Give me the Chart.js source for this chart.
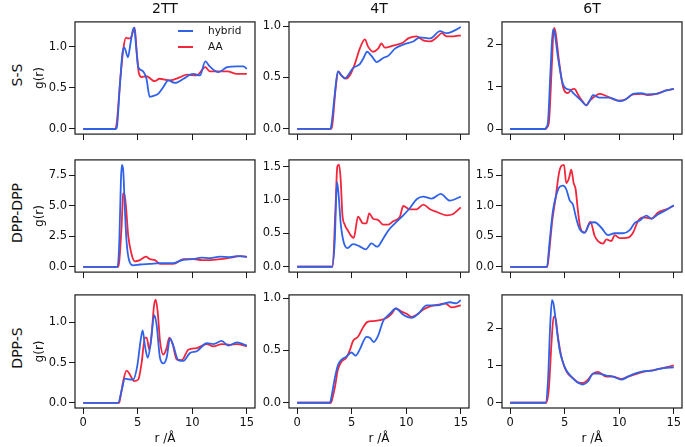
<!DOCTYPE html>
<html>
<head>
<meta charset="utf-8">
<script src="https://cdn.jsdelivr.net/npm/chart.js@4.4.0/dist/chart.umd.min.js"></script>
<style>
  body { margin: 0; background: #fff; width: 685px; height: 447px; position: relative; overflow: hidden; font-family: "DejaVu Sans", sans-serif; }
  canvas { position: absolute; }
  .lbl { position: absolute; font-size: 14px; color: #111; white-space: nowrap; transform: translate(-50%, -50%); }
  .rot { transform: translate(-50%, -50%) rotate(-90deg); }
  .leg { position: absolute; font-size: 10.5px; color: #111; }
  .sw { position: absolute; width: 15px; height: 2px; }
</style>
</head>
<body>
<script>
// column / row names
const systems = ['2TT', '4T', '6T'];
const pairs = ['S-S', 'DPP-DPP', 'DPP-S'];
const seriesNames = ['hybrid', 'AA'];
const rTicks = [0, 5, 10, 15];

// g(r) curves, [r, g]
const ss2ttHybrid = [[0,0],[3.0,0],[3.1,0.03],[3.35,0.5],[3.6,0.92],[3.75,0.99],[3.85,0.97],[4.1,0.87],[4.35,1.05],[4.55,1.2],[4.68,1.23],[4.85,1.0],[5.05,0.75],[5.4,0.71],[5.8,0.61],[6.1,0.39],[6.4,0.40],[6.9,0.43],[7.35,0.51],[7.8,0.59],[8.4,0.56],[9.2,0.61],[9.8,0.66],[10.1,0.67],[10.7,0.65],[11.2,0.82],[11.6,0.76],[12.4,0.69],[13.2,0.75],[14.1,0.76],[14.7,0.76],[15,0.73]];
const ss2ttAA = [[0,0],[2.95,0],[3.1,0.1],[3.4,0.6],[3.7,0.99],[3.92,1.11],[4.1,1.1],[4.3,1.1],[4.45,1.13],[4.72,1.23],[4.9,0.95],[5.1,0.68],[5.35,0.63],[5.8,0.64],[6.55,0.58],[7.0,0.61],[7.95,0.59],[8.9,0.63],[9.5,0.66],[10.4,0.65],[11.2,0.75],[11.6,0.70],[12.55,0.70],[13.2,0.70],[14.1,0.67],[15,0.67]];
const ss4tHybrid = [[0,0],[3.05,0],[3.15,0.05],[3.45,0.34],[3.72,0.56],[4.05,0.52],[4.36,0.49],[4.66,0.52],[5.12,0.59],[5.74,0.63],[6.04,0.68],[6.41,0.75],[6.81,0.71],[7.3,0.65],[7.88,0.69],[8.34,0.71],[8.96,0.78],[9.72,0.82],[10.64,0.85],[11.26,0.89],[12.18,0.88],[13.1,0.95],[13.7,0.93],[14.3,0.95],[15,0.99]];
const ss4tAA = [[0,0],[3.1,0],[3.22,0.04],[3.53,0.40],[3.78,0.56],[4.05,0.52],[4.5,0.49],[4.82,0.52],[5.28,0.63],[5.74,0.78],[6.2,0.87],[6.5,0.80],[6.96,0.75],[7.42,0.78],[7.73,0.83],[8.04,0.79],[8.8,0.81],[9.72,0.84],[10.18,0.88],[10.95,0.90],[11.56,0.86],[12.18,0.85],[12.8,0.89],[13.25,0.93],[13.7,0.90],[14.3,0.90],[15,0.91]];
const ss6tHybrid = [[0,0],[3.2,0],[3.3,0.03],[3.46,0.16],[3.7,1.4],[3.92,2.35],[4.07,2.28],[4.38,1.69],[4.78,1.11],[5.14,0.95],[5.45,0.93],[5.9,0.82],[6.52,0.67],[6.98,0.56],[7.29,0.67],[7.59,0.80],[8.2,0.74],[9.12,0.74],[10.04,0.66],[10.65,0.71],[11.26,0.83],[12.03,0.85],[12.49,0.82],[13.4,0.83],[14.3,0.91],[15,0.95]];
const ss6tAA = [[0,0],[3.25,0],[3.35,0.03],[3.55,0.16],[3.8,1.4],[4.01,2.39],[4.16,2.28],[4.47,1.62],[4.84,1.0],[5.3,0.85],[5.6,0.93],[5.9,0.95],[6.2,0.82],[6.67,0.64],[6.98,0.56],[7.29,0.67],[7.59,0.74],[8.2,0.83],[8.82,0.78],[9.89,0.67],[10.5,0.69],[11.26,0.82],[12.03,0.83],[12.6,0.80],[13.4,0.83],[14.3,0.91],[15,0.95]];

const dd2ttHybrid = [[0,0],[3.15,0],[3.31,2.04],[3.46,7.12],[3.55,8.35],[3.67,7.89],[3.83,4.58],[3.98,2.04],[4.22,0.51],[4.59,0.13],[5.2,0.2],[6.12,0.25],[7.04,0.31],[8.26,0.31],[9.18,0.59],[10.1,0.64],[10.87,0.76],[11.63,0.71],[12.55,0.84],[13.47,0.81],[14.1,0.89],[15,0.84]];
const dd2ttAA = [[0,0],[3.2,0],[3.31,0.5],[3.52,3.3],[3.67,5.98],[3.76,6.03],[3.92,4.96],[4.13,2.54],[4.44,1.02],[4.74,0.46],[5.2,0.56],[5.75,0.84],[6.12,0.64],[6.58,0.56],[7.04,0.25],[8.26,0.25],[9.18,0.64],[10.1,0.64],[10.87,0.56],[11.63,0.56],[12.55,0.64],[13.47,0.76],[14.4,0.89],[15,0.81]];
const dd4tHybrid = [[0,0],[3.2,0],[3.44,0.37],[3.65,1.27],[3.8,1.07],[3.99,0.65],[4.26,0.37],[4.6,0.28],[5.12,0.34],[5.67,0.31],[6.29,0.26],[6.81,0.35],[7.33,0.30],[7.88,0.42],[8.34,0.54],[8.96,0.65],[9.72,0.77],[10.34,0.88],[10.95,1.01],[11.56,1.05],[12.33,1.02],[13.16,1.09],[14.0,0.99],[15,1.05]];
const dd4tAA = [[0,0],[3.25,0],[3.5,0.84],[3.68,1.50],[3.83,1.53],[3.99,1.30],[4.14,0.79],[4.36,0.63],[4.66,0.54],[4.91,0.47],[5.18,0.43],[5.58,0.75],[6.04,0.65],[6.35,0.65],[6.6,0.80],[6.96,0.72],[7.42,0.70],[7.88,0.63],[8.34,0.63],[8.8,0.68],[9.42,0.75],[9.72,0.91],[10.34,0.86],[10.95,0.86],[11.56,0.93],[12.18,0.86],[12.8,0.82],[13.7,0.77],[14.3,0.79],[15,0.89]];
const dd6tHybrid = [[0,0],[3.37,0],[3.61,0.41],[3.92,0.92],[4.22,1.17],[4.53,1.31],[4.84,1.33],[5.14,1.27],[5.45,1.09],[5.75,1.02],[6.06,0.79],[6.37,0.62],[6.83,0.56],[7.29,0.71],[7.74,0.73],[8.36,0.64],[8.97,0.52],[9.58,0.55],[10.35,0.55],[10.96,0.60],[11.42,0.72],[11.88,0.76],[12.49,0.84],[12.95,0.79],[13.56,0.86],[14.3,0.93],[15,1.01]];
const dd6tAA = [[0,0],[3.4,0],[3.55,0.2],[3.86,0.76],[4.16,1.12],[4.47,1.53],[4.68,1.65],[4.93,1.67],[5.14,1.37],[5.39,1.45],[5.6,1.59],[5.82,1.37],[6.0,1.27],[6.21,0.92],[6.43,0.64],[6.83,0.56],[7.35,0.74],[7.74,0.51],[8.05,0.42],[8.51,0.38],[8.82,0.45],[9.27,0.42],[9.58,0.52],[10.04,0.47],[10.8,0.48],[11.26,0.56],[11.72,0.75],[12.18,0.81],[12.95,0.79],[13.56,0.89],[14.3,0.94],[15,1.0]];

const ds2ttHybrid = [[0,0],[3.2,0],[3.52,0.15],[3.83,0.30],[4.29,0.29],[4.59,0.29],[4.96,0.46],[5.26,0.77],[5.45,0.90],[5.66,0.71],[5.91,0.56],[6.18,0.73],[6.52,1.09],[6.73,0.97],[7.04,0.56],[7.35,0.49],[7.65,0.56],[7.96,0.80],[8.26,0.71],[8.72,0.53],[9.18,0.52],[9.8,0.62],[10.41,0.64],[11.33,0.74],[11.94,0.73],[12.7,0.77],[13.3,0.71],[14.1,0.75],[15,0.71]];
const ds2ttAA = [[0,0],[3.3,0],[3.45,0.1],[3.67,0.27],[3.98,0.40],[4.29,0.35],[4.65,0.27],[5.05,0.29],[5.36,0.50],[5.66,0.81],[5.82,0.81],[6.06,0.66],[6.27,0.85],[6.49,1.20],[6.64,1.28],[6.83,1.13],[7.04,0.77],[7.35,0.60],[7.65,0.68],[7.9,0.81],[8.2,0.73],[8.57,0.54],[9.03,0.53],[9.64,0.66],[10.41,0.68],[11.33,0.73],[11.94,0.70],[12.7,0.73],[13.47,0.72],[14.1,0.73],[15,0.70]];
const ds4tHybrid = [[0,0],[3.0,0],[3.13,0.05],[3.44,0.23],[3.74,0.36],[4.05,0.41],[4.5,0.44],[4.97,0.48],[5.37,0.45],[5.74,0.51],[6.35,0.63],[6.66,0.62],[7.02,0.58],[7.42,0.64],[7.88,0.78],[8.5,0.85],[9.05,0.90],[9.72,0.84],[10.5,0.81],[11.1,0.85],[11.87,0.93],[12.8,0.93],[14.0,0.96],[14.6,0.95],[15,0.98]];
const ds4tAA = [[0,0],[3.1,0],[3.2,0.03],[3.44,0.14],[3.74,0.32],[4.05,0.39],[4.5,0.43],[4.82,0.50],[5.12,0.59],[5.58,0.63],[6.04,0.72],[6.41,0.77],[6.96,0.78],[7.58,0.79],[8.19,0.81],[8.65,0.85],[9.05,0.90],[9.57,0.87],[10.03,0.85],[10.5,0.82],[10.95,0.84],[11.56,0.89],[12.18,0.92],[13.1,0.94],[13.56,0.95],[14.17,0.91],[15,0.93]];
const ds6tHybrid = [[0,0],[3.24,0],[3.46,0.57],[3.67,2.09],[3.83,2.75],[3.98,2.64],[4.22,2.09],[4.53,1.42],[4.84,1.08],[5.14,0.87],[5.6,0.70],[6.06,0.57],[6.67,0.49],[7.13,0.57],[7.59,0.78],[8.05,0.78],[8.82,0.73],[9.43,0.70],[10.19,0.62],[10.8,0.70],[11.42,0.78],[12.18,0.84],[13.1,0.87],[14.0,0.93],[15,0.95]];
const ds6tAA = [[0,0],[3.3,0],[3.55,0.4],[3.8,1.67],[3.98,2.30],[4.13,2.30],[4.38,1.76],[4.68,1.25],[4.99,0.95],[5.3,0.78],[5.75,0.66],[6.21,0.55],[6.67,0.53],[7.13,0.62],[7.59,0.78],[8.05,0.83],[8.82,0.70],[9.43,0.70],[10.19,0.64],[10.8,0.70],[11.42,0.76],[12.18,0.83],[13.1,0.87],[14.0,0.93],[15,1.0]];

// y tick values per panel row
const yTicksSS = [[0, 0.5, 1.0], [0, 0.5, 1.0], [0, 1, 2]];
const yTicksDD = [[0, 2.5, 5.0, 7.5], [0, 0.5, 1.0, 1.5], [0, 0.5, 1.0, 1.5]];
const yTicksDS = [[0, 0.5, 1.0], [0, 0.5, 1.0], [0, 1, 2]];

const BLUE = '#2f62e9';
const RED = '#f2263a';

// layout of the 3x3 grid (px)
const colLeft = [75, 289, 502];
const rowTop = [15, 153, 288];
const plotW = 180, plotH = 120;

const panels = [
  { row: 0, col: 0, hyb: ss2ttHybrid, aa: ss2ttAA, yr: [-0.062, 1.30], ticks: yTicksSS[0], dec: 1 },
  { row: 0, col: 1, hyb: ss4tHybrid, aa: ss4tAA, yr: [-0.05, 1.04], ticks: yTicksSS[1], dec: 1 },
  { row: 0, col: 2, hyb: ss6tHybrid, aa: ss6tAA, yr: [-0.12, 2.53], ticks: yTicksSS[2], dec: 0 },
  { row: 1, col: 0, hyb: dd2ttHybrid, aa: dd2ttAA, yr: [-0.42, 8.75], ticks: yTicksDD[0], dec: 1 },
  { row: 1, col: 1, hyb: dd4tHybrid, aa: dd4tAA, yr: [-0.08, 1.60], ticks: yTicksDD[1], dec: 1 },
  { row: 1, col: 2, hyb: dd6tHybrid, aa: dd6tAA, yr: [-0.085, 1.75], ticks: yTicksDD[2], dec: 1 },
  { row: 2, col: 0, hyb: ds2ttHybrid, aa: ds2ttAA, yr: [-0.064, 1.34], ticks: yTicksDS[0], dec: 1 },
  { row: 2, col: 1, hyb: ds4tHybrid, aa: ds4tAA, yr: [-0.05, 1.03], ticks: yTicksDS[1], dec: 1 },
  { row: 2, col: 2, hyb: ds6tHybrid, aa: ds6tAA, yr: [-0.14, 2.89], ticks: yTicksDS[2], dec: 0 }
];

// box around the plot area like matplotlib spines
const frame = {
  id: 'frame',
  afterDraw(chart) {
    const { ctx, chartArea: a } = chart;
    ctx.save();
    ctx.strokeStyle = '#1a1a1a';
    ctx.lineWidth = 1.2;
    ctx.strokeRect(a.left, a.top, a.right - a.left, a.bottom - a.top);
    ctx.restore();
  }
};

const tickFont = { family: 'DejaVu Sans', size: 11.5 };
const toXY = arr => arr.map(p => ({ x: p[0], y: p[1] }));

function line(label, pts, color) {
  return {
    label, data: toXY(pts), borderColor: color, backgroundColor: color,
    borderWidth: 1.8, pointRadius: 0, tension: 0.4, cubicInterpolationMode: 'monotone', fill: false
  };
}

panels.forEach(p => {
  const yw = p.col === 0 ? 46 : 36;
  const xh = p.row === 2 ? 39 : 8;
  const padTop = 2, padRight = 3;
  const cv = document.createElement('canvas');
  const w = yw + plotW + padRight, h = padTop + plotH + xh;
  cv.width = w; cv.height = h;
  cv.style.left = (colLeft[p.col] - yw) + 'px';
  cv.style.top = (rowTop[p.row] - padTop) + 'px';
  cv.style.width = w + 'px'; cv.style.height = h + 'px';
  document.body.appendChild(cv);

  new Chart(cv.getContext('2d'), {
    type: 'line',
    data: { datasets: [line(seriesNames[0], p.hyb, BLUE), line(seriesNames[1], p.aa, RED)] },
    options: {
      responsive: false,
      animation: false,
      devicePixelRatio: 1,
      layout: { padding: { top: padTop, right: padRight, left: 0, bottom: 0 } },
      plugins: { legend: { display: false }, tooltip: { enabled: false } },
      scales: {
        x: {
          type: 'linear', min: -0.75, max: 15.75,
          afterBuildTicks: s => { s.ticks = rTicks.map(v => ({ value: v })); },
          afterFit: s => { s.height = xh; },
          grid: { drawOnChartArea: false, drawTicks: true, tickLength: 6, color: '#1a1a1a', lineWidth: 1 },
          border: { display: false },
          ticks: { display: p.row === 2, padding: 2, color: '#111', font: tickFont, maxRotation: 0, autoSkip: false },
          title: { display: p.row === 2, text: 'r /Å', color: '#111', font: { family: 'DejaVu Sans', size: 12 }, padding: { top: 0, bottom: 1 } }
        },
        y: {
          type: 'linear', min: p.yr[0], max: p.yr[1],
          afterBuildTicks: s => { s.ticks = p.ticks.map(v => ({ value: v })); },
          afterFit: s => { s.width = yw; },
          grid: { drawOnChartArea: false, drawTicks: true, tickLength: 6, color: '#1a1a1a', lineWidth: 1 },
          border: { display: false },
          ticks: { padding: 2, color: '#111', font: tickFont, callback: v => v.toFixed(p.dec) },
          title: { display: p.col === 0, text: 'g(r)', color: '#111', font: { family: 'DejaVu Sans', size: 12 }, padding: { top: 4, bottom: 0 } }
        }
      }
    },
    plugins: [frame]
  });
});

// column titles and row labels
systems.forEach((s, i) => {
  const d = document.createElement('div');
  d.className = 'lbl'; d.textContent = s;
  d.style.left = (colLeft[i] + plotW / 2) + 'px'; d.style.top = '8px';
  document.body.appendChild(d);
});
pairs.forEach((s, i) => {
  const d = document.createElement('div');
  d.className = 'lbl rot'; d.textContent = s;
  d.style.left = '17px'; d.style.top = (rowTop[i] + plotH / 2) + 'px';
  document.body.appendChild(d);
});

// legend inside the first panel
[[seriesNames[0], BLUE, 31], [seriesNames[1], RED, 47]].forEach(([name, color, y]) => {
  const sw = document.createElement('div');
  sw.className = 'sw'; sw.style.background = color;
  sw.style.left = '178px'; sw.style.top = (y - 1) + 'px';
  document.body.appendChild(sw);
  const t = document.createElement('div');
  t.className = 'leg'; t.textContent = name;
  t.style.left = '208px'; t.style.top = (y - 7) + 'px';
  document.body.appendChild(t);
});
</script>
</body>
</html>
